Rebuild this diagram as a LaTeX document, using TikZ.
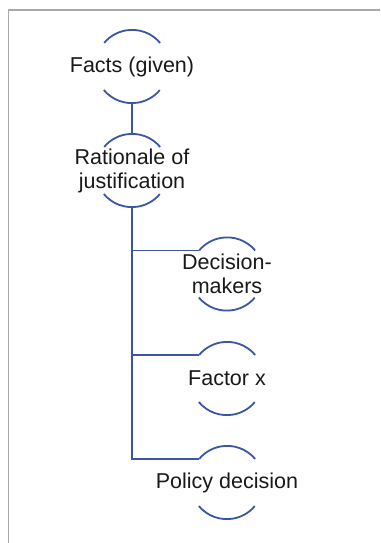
\documentclass[tikz,border=0pt]{standalone}
\usepackage{fontspec}
\setmainfont{Liberation Sans}
\definecolor{linkblue}{RGB}{58,86,166}
\definecolor{framegray}{RGB}{168,168,168}
\definecolor{textdark}{RGB}{25,25,25}
\begin{document}
\begin{tikzpicture}[x=1pt,y=1pt,
  ring/.style={circle, minimum size=73pt, inner sep=0pt},
  term/.style={inner sep=0pt, align=center,
    text=textdark, font=\fontsize{21.5}{24}\selectfont},
  link/.style={draw=linkblue, line width=1.8pt},
  frame/.style={draw=framegray, line width=1.8pt}]
  \useasboundingbox (0,0) rectangle (380,-543);
  % page frame: left and top rules only
  \draw[frame] (8.5,-543) -- (8.5,-10) -- (380,-10);

  % rings that carry the bracket arcs
  \node[ring] (facts) at (132,-66.5) {};
  \node[ring] (rat)   at (132,-170.5) {};
  \node[ring] (dm)    at (227,-274) {};
  \node[ring] (fx)    at (227,-378.5) {};
  \node[ring] (pol)   at (227,-482.5) {};

  % labels
  \node[term] (facts-t) at (facts) {Facts (given)};
  \node[term] (rat-t)   at (rat)   {Rationale of\\justification};
  \node[term] (dm-t)    at (dm)    {Decision-\\makers};
  \node[term] (fx-t)    at (fx)    {Factor x};
  \node[term] (pol-t)   at (pol)   {Policy decision};

  % bracket arcs above and below each term
  \foreach \n in {facts,rat,dm,fx,pol}{
    \draw[link] (\n.40) arc[start angle=40, end angle=140, radius=36.5pt];
    \draw[link] (\n.220) arc[start angle=220, end angle=320, radius=36.5pt];
  }

  % connectors
  \draw[link] (facts.south) -- (rat.north);
  \draw[link] (rat.south) |- (pol.140);
  \draw[link] (rat.south |- dm.140) -- (dm.140);
  \draw[link] (rat.south |- fx.140) -- (fx.140);
\end{tikzpicture}
\end{document}
